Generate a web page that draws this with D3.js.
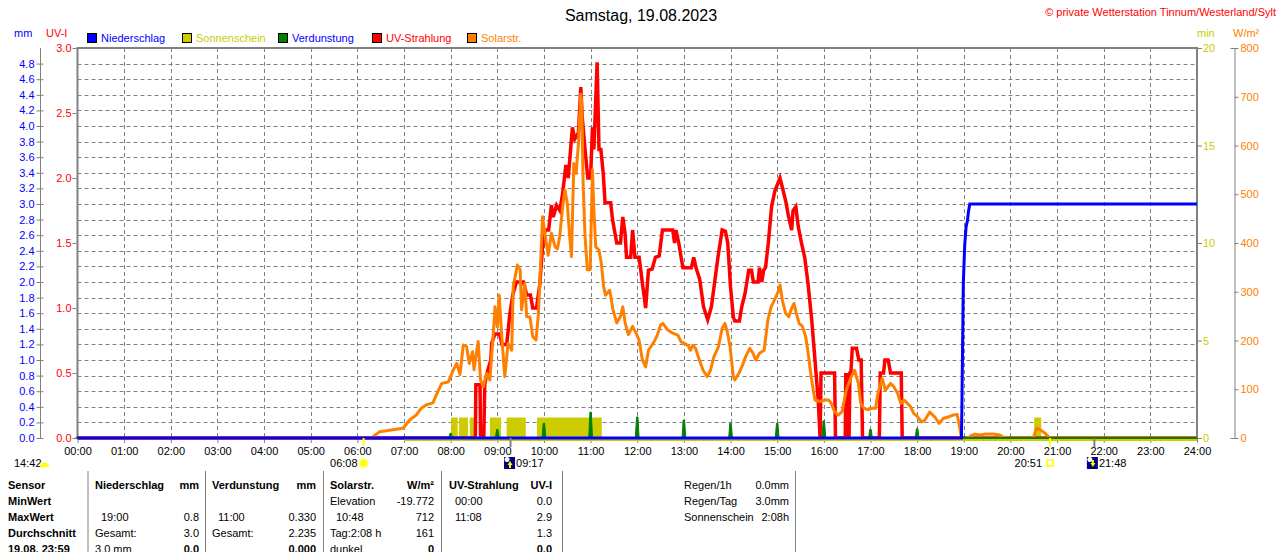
<!DOCTYPE html>
<html>
<head>
<meta charset="utf-8">
<script src="https://cdn.jsdelivr.net/npm/d3@7"></script>
<style>
  body { margin: 0; background: #fff; }
  svg { display: block; font-family: "Liberation Sans", Arial, sans-serif; font-size: 11px; }
</style>
</head>
<body>
<svg id="chart" width="1280" height="552"></svg>
<script>
// ---- data (hours as decimal) ----
var hourLabels = ['00:00', '01:00', '02:00', '03:00', '04:00', '05:00', '06:00', '07:00', '08:00',
  '09:00', '10:00', '11:00', '12:00', '13:00', '14:00', '15:00', '16:00', '17:00', '18:00',
  '19:00', '20:00', '21:00', '22:00', '23:00', '24:00'];

var mmTicks = [0.0, 0.2, 0.4, 0.6, 0.8, 1.0, 1.2, 1.4, 1.6, 1.8, 2.0, 2.2, 2.4, 2.6, 2.8,
  3.0, 3.2, 3.4, 3.6, 3.8, 4.0, 4.2, 4.4, 4.6, 4.8];
var uvTicks = [0.0, 0.5, 1.0, 1.5, 2.0, 2.5, 3.0];
var sunTicks = [0, 5, 10, 15, 20];
var solarTicks = [0, 100, 200, 300, 400, 500, 600, 700, 800];

// Niederschlag, cumulative mm
var rainSeries = [[0, 0], [18.95, 0], [18.96, 0.4], [18.99, 1.98], [19.02, 2.47], [19.05, 2.71],
  [19.08, 2.79], [19.1, 2.9], [19.13, 3.0], [24, 3.0]];

// Sonnenschein, minutes per interval [start, end]
var sunIntervals = [[8.01, 8.15], [8.18, 8.37], [8.41, 8.51], [8.84, 9.08], [9.2, 9.61],
  [9.85, 11.24], [20.51, 20.66]];
var sunMinutes = 1.05;
var sunBaseStart = 7.0;

// Verdunstung, mm per hour
var evapHours = [0, 1, 2, 3, 4, 5, 6, 7, 8, 9, 10, 11, 12, 13, 14, 15, 16, 17, 18, 19, 20, 21, 22, 23];
var evapValues = [0.01, 0.01, 0.01, 0.01, 0.01, 0.01, 0.01, 0.02, 0.06, 0.11, 0.19, 0.33, 0.27,
  0.23, 0.19, 0.19, 0.22, 0.11, 0.12, 0.02, 0.01, 0.01, 0.01, 0.01];

// UV-Strahlung, UV-I
var uvSeries = [[0, 0], [8.53, 0], [8.54, 0.41], [8.63, 0.41], [8.64, 0], [8.71, 0], [8.73, 0.41],
  [8.78, 0.5], [8.86, 0.6], [8.88, 0.73], [8.95, 0.8], [9.05, 0.8], [9.1, 0.72], [9.2, 0.72],
  [9.24, 0.85], [9.26, 0.93], [9.33, 1.1], [9.41, 1.2], [9.56, 1.2], [9.63, 1.1], [9.71, 1.1],
  [9.76, 1.0], [9.84, 1.0], [9.91, 1.18], [9.97, 1.47], [10.02, 1.6], [10.1, 1.6], [10.16, 1.79],
  [10.2, 1.7], [10.27, 1.79], [10.34, 1.75], [10.4, 1.88], [10.47, 2.1], [10.52, 2.0],
  [10.61, 2.39], [10.66, 2.3], [10.74, 2.35], [10.79, 2.7], [10.82, 2.47], [10.88, 2.22],
  [10.94, 2.0], [11.0, 2.0], [11.04, 2.39], [11.07, 2.22], [11.14, 2.89], [11.18, 2.22],
  [11.22, 2.22], [11.27, 2.04], [11.31, 1.81], [11.43, 1.81], [11.47, 1.68], [11.56, 1.5],
  [11.64, 1.5], [11.69, 1.7], [11.74, 1.57], [11.77, 1.39], [11.86, 1.39], [11.9, 1.6],
  [11.95, 1.39], [12.04, 1.39], [12.11, 1.19], [12.18, 1.0], [12.24, 1.29], [12.32, 1.3],
  [12.39, 1.39], [12.47, 1.4], [12.54, 1.6], [12.76, 1.6], [12.8, 1.5], [12.83, 1.6],
  [12.89, 1.5], [12.94, 1.39], [12.98, 1.31], [13.16, 1.31], [13.21, 1.39], [13.26, 1.31],
  [13.34, 1.22], [13.42, 1.01], [13.51, 0.91], [13.59, 1.01], [13.66, 1.2], [13.73, 1.39],
  [13.82, 1.6], [13.89, 1.59], [13.94, 1.5], [14.0, 1.16], [14.06, 0.93], [14.09, 0.9],
  [14.19, 0.9], [14.24, 1.01], [14.31, 1.11], [14.39, 1.29], [14.45, 1.29], [14.49, 1.2],
  [14.59, 1.2], [14.62, 1.31], [14.67, 1.2], [14.71, 1.29], [14.75, 1.31], [14.81, 1.5],
  [14.88, 1.78], [14.95, 1.9], [15.06, 2.0], [15.13, 1.9], [15.19, 1.81], [15.24, 1.71],
  [15.31, 1.6], [15.34, 1.75], [15.4, 1.78], [15.45, 1.63], [15.52, 1.5], [15.59, 1.39],
  [15.66, 1.19], [15.74, 0.91], [15.81, 0.6], [15.88, 0.29], [15.92, 0], [15.94, 0.5],
  [16.23, 0.5], [16.25, 0], [16.46, 0], [16.47, 0.5], [16.5, 0], [16.52, 0.5], [16.54, 0],
  [16.56, 0.5], [16.58, 0.5], [16.61, 0.69], [16.7, 0.69], [16.75, 0.6], [16.8, 0.6],
  [16.83, 0], [17.19, 0], [17.21, 0.5], [17.28, 0.5], [17.31, 0.6], [17.38, 0.6], [17.43, 0.5],
  [17.66, 0.5], [17.68, 0], [24, 0]];

// Solarstrahlung, W/m²
var solarSeries = [[0, 0], [6.3, 0], [6.48, 13], [6.69, 16], [6.98, 20], [7.12, 37], [7.26, 47],
  [7.37, 61], [7.48, 68], [7.62, 72], [7.69, 88], [7.81, 112], [7.95, 115], [8.06, 140],
  [8.13, 153], [8.2, 130], [8.27, 191], [8.34, 188], [8.4, 153], [8.47, 177], [8.5, 140],
  [8.56, 180], [8.59, 198], [8.64, 119], [8.7, 105], [8.77, 133], [8.84, 119], [8.91, 208],
  [8.95, 269], [9.0, 228], [9.04, 293], [9.09, 215], [9.16, 126], [9.23, 194], [9.31, 180],
  [9.34, 310], [9.43, 355], [9.49, 345], [9.52, 263], [9.59, 317], [9.63, 249], [9.7, 248],
  [9.76, 208], [9.83, 201], [9.88, 253], [9.91, 317], [9.97, 454], [10.02, 420], [10.09, 375],
  [10.16, 420], [10.24, 392], [10.29, 388], [10.34, 415], [10.4, 474], [10.45, 509],
  [10.5, 481], [10.54, 427], [10.59, 372], [10.64, 563], [10.69, 543], [10.74, 605],
  [10.79, 705], [10.81, 686], [10.84, 522], [10.88, 415], [10.93, 345], [10.99, 345],
  [11.04, 550], [11.07, 468], [11.11, 392], [11.18, 385], [11.23, 358], [11.28, 310],
  [11.32, 293], [11.41, 303], [11.48, 263], [11.56, 236], [11.64, 249], [11.69, 269],
  [11.74, 236], [11.81, 212], [11.9, 229], [11.99, 212], [12.04, 200], [12.11, 160],
  [12.18, 146], [12.24, 180], [12.36, 197], [12.43, 211], [12.5, 232], [12.55, 235],
  [12.65, 222], [12.76, 215], [12.87, 211], [12.94, 197], [13.01, 194], [13.09, 190],
  [13.14, 180], [13.19, 190], [13.25, 184], [13.32, 163], [13.41, 139], [13.5, 126],
  [13.57, 139], [13.64, 166], [13.74, 187], [13.82, 225], [13.88, 235], [13.93, 218],
  [13.99, 187], [14.06, 126], [14.09, 119], [14.18, 133], [14.26, 150], [14.32, 166],
  [14.41, 184], [14.48, 174], [14.54, 160], [14.62, 174], [14.72, 180], [14.8, 242],
  [14.87, 269], [14.94, 283], [15.02, 300], [15.06, 314], [15.11, 283], [15.18, 256],
  [15.25, 249], [15.31, 266], [15.36, 276], [15.41, 256], [15.47, 235], [15.54, 229],
  [15.61, 208], [15.66, 177], [15.71, 139], [15.75, 112], [15.81, 78], [15.91, 75],
  [16.03, 78], [16.1, 78], [16.16, 71], [16.23, 54], [16.31, 47], [16.39, 54], [16.48, 98],
  [16.59, 126], [16.66, 139], [16.74, 112], [16.79, 71], [16.86, 61], [16.94, 58],
  [17.04, 61], [17.11, 61], [17.16, 92], [17.25, 122], [17.32, 98], [17.43, 112], [17.5, 105],
  [17.58, 92], [17.65, 71], [17.72, 78], [17.79, 71], [17.86, 64], [17.93, 50], [18.0, 45],
  [18.09, 33], [18.16, 36], [18.27, 53], [18.38, 43], [18.47, 30], [18.56, 40], [18.66, 43],
  [18.77, 47], [18.86, 48], [18.91, 23], [18.95, 0], [19.1, 0], [19.16, 5], [19.24, 8],
  [19.35, 6], [19.45, 8], [19.63, 8], [19.77, 6], [19.88, 0], [20.49, 0], [20.56, 20],
  [20.64, 17], [20.74, 10], [20.84, 0], [24, 0]];

// events below the time axis
var sunEvents = [{ time: '06:08', kind: 'rise' }, { time: '20:51', kind: 'set' }];
var moonEvents = [{ time: '09:17', kind: 'rise' }, { time: '21:48', kind: 'set' }];
var moonPhaseLabel = '14:42';

// summary table
var tableSensor = ['Sensor', 'MinWert', 'MaxWert', 'Durchschnitt', '19.08. 23:59'];
var tableRain = [['Niederschlag', 'mm'], ['', ''], ['19:00', '0.8'], ['Gesamt:', '3.0'], ['3.0 mm', '0.0']];
var tableEvap = [['Verdunstung', 'mm'], ['', ''], ['11:00', '0.330'], ['Gesamt:', '2.235'], ['', '0.000']];
var tableSolar = [['Solarstr.', 'W/m²'], ['Elevation', '-19.772'], ['10:48', '712'], ['Tag:2:08 h', '161'], ['dunkel', '0']];
var tableUv = [['UV-Strahlung', 'UV-I'], ['00:00', '0.0'], ['11:08', '2.9'], ['', '1.3'], ['', '0.0']];
var tableRegen = [['Regen/1h', '0.0mm'], ['Regen/Tag', '3.0mm'], ['Sonnenschein', '2:08h']];

var legendItems = [
  { name: 'Niederschlag', box: '#0000ff', text: '#0000ff' },
  { name: 'Sonnenschein', box: '#cccc00', text: '#cccc00' },
  { name: 'Verdunstung', box: '#008000', text: '#0000ff' },
  { name: 'UV-Strahlung', box: '#ff0000', text: '#ff0000' },
  { name: 'Solarstr.', box: '#ff8000', text: '#ff8000' }
];

// ---- layout ----
var plotTop = 48, plotBottom = 438, plotLeft = 77.5, plotRight = 1197;
var GRID = '#808080';

var svg = d3.select('#chart');
svg.append('rect').attr('width', 1280).attr('height', 552).attr('fill', '#fff');

var x = d3.scaleLinear().domain([0, 24]).range([plotLeft, plotRight]);
var yMm = d3.scaleLinear().domain([0, 5]).range([plotBottom, plotTop]);
var yUv = d3.scaleLinear().domain([0, 3]).range([plotBottom, plotTop]);
var ySun = d3.scaleLinear().domain([0, 20]).range([plotBottom, plotTop]);
var ySolar = d3.scaleLinear().domain([0, 800]).range([plotBottom, plotTop]);

function parseTime(t) {
  var p = t.split(':');
  return +p[0] + (+p[1]) / 60;
}

/**
 * Grid
 */
var grid = svg.append('g').attr('stroke', GRID).attr('stroke-dasharray', '4,3').attr('stroke-width', 1);
grid.selectAll('line.h')
  .data(mmTicks.slice(1))
  .enter().append('line')
  .attr('x1', plotLeft).attr('x2', plotRight)
  .attr('y1', function (d) { return Math.round(yMm(d)) + 0.5; })
  .attr('y2', function (d) { return Math.round(yMm(d)) + 0.5; });
grid.selectAll('line.v')
  .data(d3.range(1, 24))
  .enter().append('line')
  .attr('y1', plotTop).attr('y2', plotBottom)
  .attr('x1', function (d) { return Math.round(x(d)) + 0.5; })
  .attr('x2', function (d) { return Math.round(x(d)) + 0.5; });

// frame
var frame = svg.append('g').attr('stroke', GRID).attr('stroke-width', 2);
frame.append('line').attr('x1', plotLeft - 1).attr('x2', plotRight + 1).attr('y1', plotTop).attr('y2', plotTop);
frame.append('line').attr('x1', plotLeft).attr('x2', plotLeft).attr('y1', plotTop).attr('y2', plotBottom);
frame.append('line').attr('x1', plotRight).attr('x2', plotRight).attr('y1', plotTop).attr('y2', plotBottom);

/**
 * Axes
 */
function styleAxis(g, color) {
  g.attr('font-size', 11).attr('font-family', null);
  g.selectAll('text').attr('fill', color);
  g.selectAll('line').attr('stroke', GRID);
  g.selectAll('path.domain').attr('stroke', GRID);
}

var mmAxis = svg.append('g').attr('transform', 'translate(40.5,0)')
  .call(d3.axisLeft(yMm).tickValues(mmTicks).tickFormat(d3.format('.1f')).tickSize(4).tickSizeOuter(0).tickPadding(2));
mmAxis.selectAll('.tick line').attr('x1', 3);
mmAxis.select('path.domain').attr('d', 'M0,' + (plotBottom + 0.5) + 'V' + plotTop);
styleAxis(mmAxis, '#0000ff');

var uvAxis = svg.append('g').attr('transform', 'translate(' + (plotLeft - 1) + ',0)')
  .call(d3.axisLeft(yUv).tickValues(uvTicks).tickFormat(d3.format('.1f')).tickSize(4).tickPadding(1));
uvAxis.select('path.domain').remove();
styleAxis(uvAxis, '#ff0000');

var sunAxis = svg.append('g').attr('transform', 'translate(' + (plotRight + 1) + ',0)')
  .call(d3.axisRight(ySun).tickValues(sunTicks).tickSize(4).tickPadding(1));
sunAxis.select('path.domain').remove();
styleAxis(sunAxis, '#cccc00');

var solarAxis = svg.append('g').attr('transform', 'translate(1234.5,0)')
  .call(d3.axisRight(ySolar).tickValues(solarTicks).tickSize(4).tickSizeOuter(0).tickPadding(2));
solarAxis.selectAll('.tick')
  .filter(function (d) { return d === 0 || d === 800; })
  .select('line').attr('x1', -4);
styleAxis(solarAxis, '#ff8000');

var xAxis = svg.append('g').attr('transform', 'translate(0,' + plotBottom + ')')
  .call(d3.axisBottom(x).tickValues(d3.range(0, 25)).tickSize(5).tickSizeOuter(0).tickPadding(4)
    .tickFormat(function (d) { return hourLabels[d]; }));
xAxis.select('path.domain').remove();
styleAxis(xAxis, '#000');

/**
 * Series
 */
// Sonnenschein bars
svg.append('g').selectAll('rect')
  .data(sunIntervals)
  .enter().append('rect')
  .attr('x', function (d) { return x(d[0]); })
  .attr('width', function (d) { return x(d[1]) - x(d[0]); })
  .attr('y', ySun(sunMinutes))
  .attr('height', ySun(0) - ySun(sunMinutes))
  .attr('fill', '#cccc00');

var uvLine = d3.line().x(function (d) { return x(d[0]); }).y(function (d) { return yUv(d[1]); });
var solarLine = d3.line().x(function (d) { return x(d[0]); }).y(function (d) { return ySolar(d[1]); });
var rainLine = d3.line().x(function (d) { return x(d[0]); }).y(function (d) { return yMm(d[1]); });

svg.append('path').datum(uvSeries)
  .attr('d', uvLine).attr('fill', 'none')
  .attr('stroke', '#ff0000').attr('stroke-width', 3.5).attr('stroke-linejoin', 'miter');

svg.append('path').datum(solarSeries)
  .attr('d', solarLine).attr('fill', 'none')
  .attr('stroke', '#ff8000').attr('stroke-width', 3).attr('stroke-linejoin', 'round');

// sunshine zero line
svg.append('line')
  .attr('x1', x(sunBaseStart)).attr('x2', x(24))
  .attr('y1', ySun(0) + 2).attr('y2', ySun(0) + 2)
  .attr('stroke', '#cccc00').attr('stroke-width', 2);

// Verdunstung spikes
var evapArea = d3.area()
  .x(function (d) { return x(d[0]); })
  .y0(yMm(0))
  .y1(function (d) { return yMm(d[1]); });
svg.append('g').selectAll('path')
  .data(evapHours.map(function (h, i) {
    return [[h - 0.04, 0], [h - 0.015, evapValues[i]], [h + 0.015, evapValues[i]], [h + 0.04, 0]];
  }))
  .enter().append('path')
  .attr('d', evapArea)
  .attr('fill', '#008000').attr('stroke', '#008000').attr('stroke-width', 1);
svg.append('line')
  .attr('x1', x(0)).attr('x2', x(24)).attr('y1', yMm(0)).attr('y2', yMm(0))
  .attr('stroke', '#008000').attr('stroke-width', 2);

svg.append('path').datum(rainSeries)
  .attr('d', rainLine).attr('fill', 'none')
  .attr('stroke', '#0000ff').attr('stroke-width', 3);

/**
 * Event markers under the time axis
 */
var ev = svg.append('g');
ev.append('text').attr('x', 14).attr('y', 467).text(moonPhaseLabel);
ev.append('path')
  .attr('d', 'M40,467 A4.5,4.5 0 0 1 49,467 Z')
  .attr('fill', '#ffff00');

sunEvents.forEach(function (e) {
  var cx = x(parseTime(e.time));
  ev.append('line').attr('x1', cx).attr('x2', cx).attr('y1', plotBottom).attr('y2', plotBottom + 8)
    .attr('stroke', '#ffff00').attr('stroke-width', 2);
  if (e.kind === 'rise') {
    ev.append('circle').attr('cx', cx).attr('cy', 463).attr('r', 5.5).attr('fill', '#ffffa0');
    ev.append('circle').attr('cx', cx).attr('cy', 463).attr('r', 3.5).attr('fill', '#ffff00');
    ev.append('text').attr('x', cx - 6).attr('y', 467).attr('text-anchor', 'end').text(e.time);
  } else {
    ev.append('rect').attr('x', cx - 3).attr('y', 460).attr('width', 6).attr('height', 6)
      .attr('fill', 'none').attr('stroke', '#ffff00').attr('stroke-width', 1.5);
    ev.append('text').attr('x', cx - 8).attr('y', 467).attr('text-anchor', 'end').text(e.time);
  }
});

moonEvents.forEach(function (e) {
  var cx = x(parseTime(e.time));
  ev.append('line').attr('x1', cx).attr('x2', cx).attr('y1', plotBottom).attr('y2', plotBottom + 9)
    .attr('stroke', GRID).attr('stroke-width', 2);
  var bx = e.kind === 'rise' ? cx - 6.5 : cx - 7.5;
  ev.append('rect').attr('x', bx).attr('y', 457).attr('width', 11).attr('height', 12).attr('fill', '#000080');
  ev.append('circle').attr('cx', bx + 3).attr('cy', 459.5).attr('r', 2.5).attr('fill', '#fff');
  if (e.kind === 'rise') {
    ev.append('path').attr('d', 'M' + (bx + 6) + ',461 l-2.5,4 h1.5 v3 h2 v-3 h1.5 Z').attr('fill', '#ffff00');
  } else {
    ev.append('path').attr('d', 'M' + (bx + 6) + ',467 l-2.5,-4 h1.5 v-3 h2 v3 h1.5 Z').attr('fill', '#ffff00');
  }
  ev.append('text').attr('x', bx + 12).attr('y', 467).text(e.time);
});

/**
 * Header, legend, units
 */
svg.append('text').attr('x', 641).attr('y', 21).attr('text-anchor', 'middle')
  .attr('font-size', 16).text('Samstag, 19.08.2023');
svg.append('text').attr('x', 1276).attr('y', 16).attr('text-anchor', 'end')
  .attr('fill', '#ff0000').text('© private Wetterstation Tinnum/Westerland/Sylt');

svg.append('text').attr('x', 14).attr('y', 37).attr('fill', '#0000ff').text('mm');
svg.append('text').attr('x', 46).attr('y', 37).attr('fill', '#ff0000').text('UV-I');
svg.append('text').attr('x', 1197).attr('y', 37).attr('fill', '#cccc00').text('min');
svg.append('text').attr('x', 1233).attr('y', 37).attr('fill', '#ff8000').text('W/m²');

var legendX = [87, 182, 278, 372, 467];
var legend = svg.append('g').selectAll('g')
  .data(legendItems)
  .enter().append('g')
  .attr('transform', function (d, i) { return 'translate(' + legendX[i] + ',33)'; });
legend.append('rect').attr('x', 0.5).attr('y', 0.5).attr('width', 9).attr('height', 9)
  .attr('fill', function (d) { return d.box; }).attr('stroke', '#000');
legend.append('text').attr('x', 14).attr('y', 9)
  .attr('fill', function (d) { return d.text; })
  .text(function (d) { return d.name; });

/**
 * Summary table
 */
var rowY = [489, 505, 521, 537, 553];
var table = svg.append('g');

[88, 205.5, 323.5, 441.5, 562.5, 795.5].forEach(function (sx) {
  table.append('line').attr('x1', sx).attr('x2', sx).attr('y1', 471).attr('y2', 552)
    .attr('stroke', GRID).attr('stroke-width', 1);
});

tableSensor.forEach(function (t, i) {
  table.append('text').attr('x', 8).attr('y', rowY[i]).attr('font-weight', 'bold').text(t);
});

var isTime = /^\d\d:\d\d$/;
[
  { rows: tableRain, x0: 95, x1: 199 },
  { rows: tableEvap, x0: 212, x1: 316 },
  { rows: tableSolar, x0: 330, x1: 434 },
  { rows: tableUv, x0: 449, x1: 552 }
].forEach(function (col) {
  col.rows.forEach(function (r, i) {
    var bold = i === 0 || i === 4;
    table.append('text')
      .attr('x', col.x0 + (i > 0 && isTime.test(r[0]) ? 6 : 0))
      .attr('y', rowY[i])
      .attr('font-weight', i === 0 ? 'bold' : null)
      .text(r[0]);
    table.append('text')
      .attr('x', col.x1).attr('y', rowY[i])
      .attr('text-anchor', 'end')
      .attr('font-weight', bold ? 'bold' : null)
      .text(r[1]);
  });
});

tableRegen.forEach(function (r, i) {
  table.append('text').attr('x', 684).attr('y', rowY[i]).text(r[0]);
  table.append('text').attr('x', 789).attr('y', rowY[i]).attr('text-anchor', 'end').text(r[1]);
});
</script>
</body>
</html>
